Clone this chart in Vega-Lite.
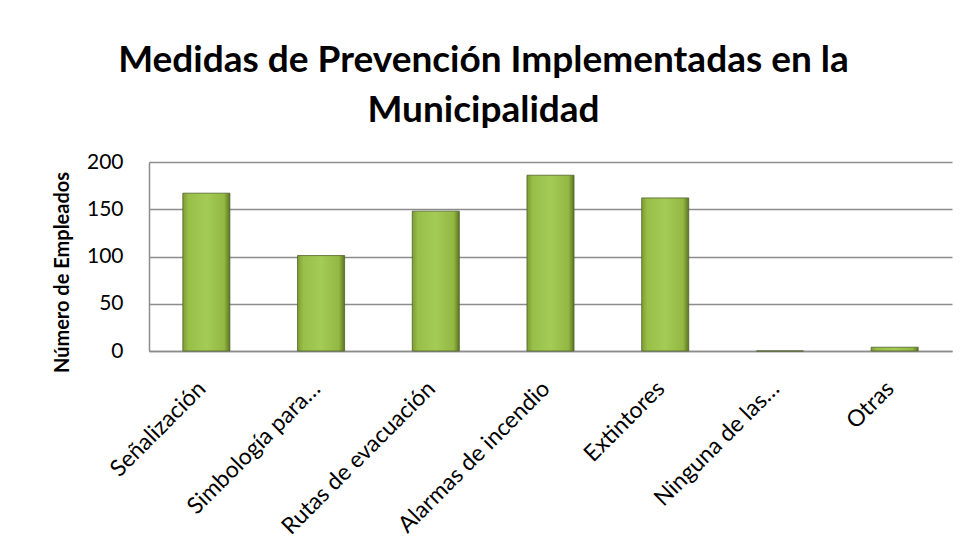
{
  "$schema": "https://vega.github.io/schema/vega-lite/v6.json",
  "autosize": "none",
  "width": 803,
  "height": 189,
  "padding": {"left": 149, "top": 162, "right": 14, "bottom": 208},
  "background": "white",
  "title": {
    "text": ["Medidas de Prevención Implementadas en la", "Municipalidad"],
    "font": "Lato",
    "fontSize": 37,
    "fontWeight": "bold",
    "color": "#000000",
    "lineHeight": 50,
    "anchor": "middle",
    "frame": "group",
    "dx": -67,
    "offset": 21
  },
  "data": {
    "values": [
      {"medida": "Señalización", "empleados": 167},
      {"medida": "Simbología para…", "empleados": 101},
      {"medida": "Rutas de evacuación", "empleados": 148},
      {"medida": "Alarmas de incendio", "empleados": 186},
      {"medida": "Extintores", "empleados": 162},
      {"medida": "Ninguna de las…", "empleados": 0},
      {"medida": "Otras", "empleados": 4}
    ]
  },
  "mark": {
    "type": "bar",
    "stroke": "#4f6228",
    "strokeWidth": 0.8,
    "fill": {
      "gradient": "linear",
      "x1": 0, "y1": 0, "x2": 1, "y2": 0,
      "stops": [
        {"offset": 0, "color": "#7d9c33"},
        {"offset": 0.12, "color": "#98bf48"},
        {"offset": 0.5, "color": "#a4cb55"},
        {"offset": 0.88, "color": "#93b843"},
        {"offset": 1, "color": "#5a7620"}
      ]
    }
  },
  "encoding": {
    "x": {
      "field": "medida",
      "type": "nominal",
      "sort": null,
      "scale": {"paddingInner": 0.59, "paddingOuter": 0.295},
      "axis": {
        "title": null,
        "labelAngle": -45,
        "labelFont": "Lato",
        "labelFontSize": 23,
        "labelColor": "#000000",
        "labelPadding": 26,
        "labelOffset": -12,
        "ticks": false,
        "domainColor": "#8c8c8c",
        "domainWidth": 1.5,
        "labelLimit": 300
      }
    },
    "y": {
      "field": "empleados",
      "type": "quantitative",
      "scale": {"domain": [0, 200], "nice": false},
      "axis": {
        "title": "Número de Empleados",
        "titleFont": "Lato",
        "titleFontSize": 20,
        "titleFontWeight": "bold",
        "titleColor": "#000000",
        "titlePadding": 14,
        "titleY": 110,
        "values": [0, 50, 100, 150, 200],
        "labelFont": "Lato",
        "labelFontSize": 21,
        "labelColor": "#000000",
        "labelPadding": 26,
        "ticks": false,
        "domainColor": "#8c8c8c",
        "domainWidth": 1.5,
        "grid": true,
        "gridColor": "#8c8c8c",
        "gridWidth": 1.5
      }
    }
  },
  "config": {
    "view": {"stroke": null}
  }
}
